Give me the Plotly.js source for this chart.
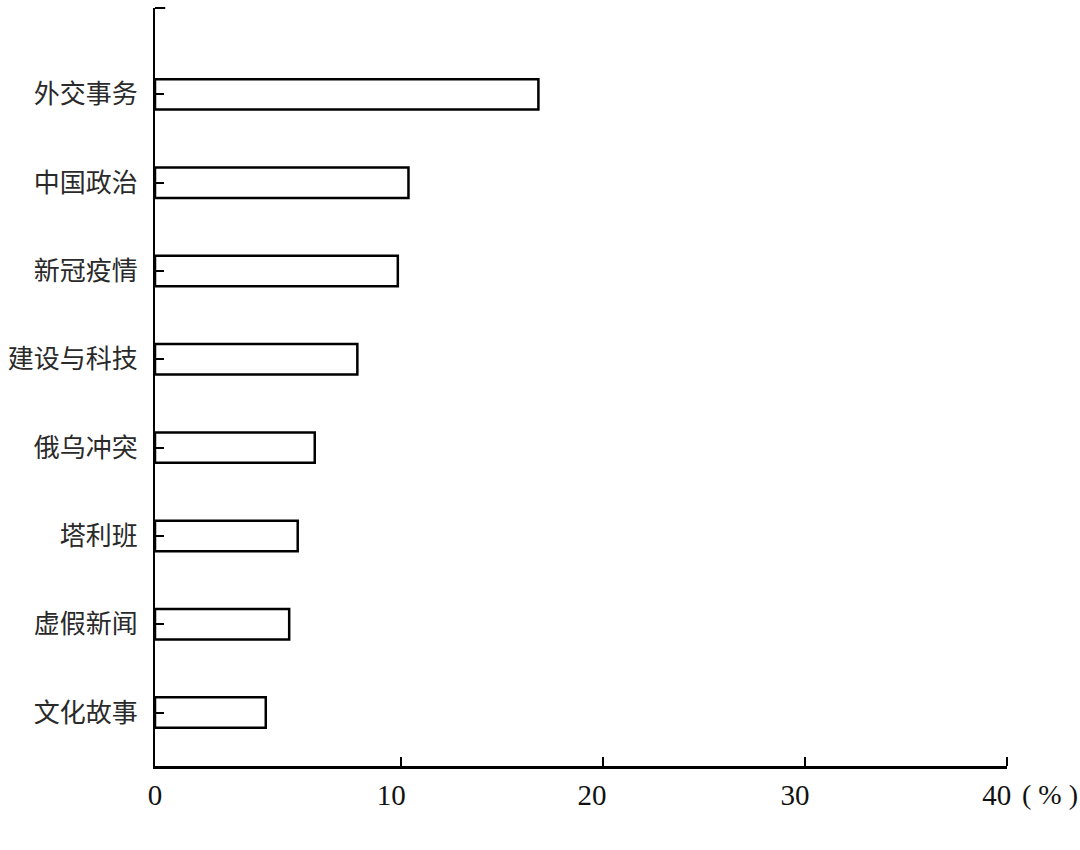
<!DOCTYPE html>
<html>
<head>
<meta charset="utf-8">
<script src="https://cdn.plot.ly/plotly-3.0.1.min.js"></script>
<style>html,body{margin:0;padding:0;background:#fff;}#chart{width:1080px;height:850px;}</style>
</head>
<body>
<div id="chart"></div>
<script>
// Data (top to bottom as in the chart)
const categories = ['外交事务', '中国政治', '新冠疫情', '建设与科技', '俄乌冲突', '塔利班', '虚假新闻', '文化故事'];
const shares = [18.0, 11.9, 11.4, 9.5, 7.5, 6.7, 6.3, 5.2];
const xTickLabels = ['0', '10', '20', '30', '40'];
const unitLabel = '( % )';

// Layout-only positions (the reference axis places its labels/ticks this way)
const labelPositions = [0, 11.09, 20.52, 30.05, 39.52];
const tickMarkPositions = [11.53, 21.02, 30.52, 40];

const trace = {
  type: 'bar',
  orientation: 'h',
  x: shares,
  y: categories,
  width: 0.345,
  marker: { color: '#ffffff', line: { color: '#000000', width: 2.5 } },
  hoverinfo: 'x+y'
};

const layout = {
  width: 1080,
  height: 850,
  margin: { l: 155, r: 73, t: 8, b: 84, pad: 0 },
  paper_bgcolor: '#ffffff',
  plot_bgcolor: '#ffffff',
  showlegend: false,
  xaxis: {
    range: [0, 40],
    showline: true,
    linecolor: '#000000',
    linewidth: 2.8,
    showgrid: false,
    zeroline: false,
    tickmode: 'array',
    tickvals: labelPositions,
    ticktext: xTickLabels,
    ticks: '',
    ticklabelstandoff: 1,
    tickfont: { family: 'Liberation Serif, Times New Roman, serif', size: 29, color: '#111111' },
    minor: {
      tickmode: 'array',
      tickvals: tickMarkPositions,
      ticks: 'inside',
      ticklen: 9,
      tickwidth: 2,
      tickcolor: '#000000',
      showgrid: false
    },
    fixedrange: true
  },
  yaxis: {
    type: 'category',
    categoryorder: 'array',
    categoryarray: categories,
    range: [7.605, -0.978],
    showline: true,
    linecolor: '#000000',
    linewidth: 2,
    showgrid: false,
    zeroline: false,
    ticks: 'inside',
    ticklen: 9,
    tickwidth: 2,
    tickcolor: '#000000',
    ticklabelstandoff: 10,
    tickfont: { family: 'Noto Sans CJK SC, sans-serif', size: 26, color: '#2a2a2a' },
    fixedrange: true
  },
  shapes: [
    {
      type: 'line', xref: 'paper', yref: 'paper',
      x0: 0, x1: 0.012, y0: 1, y1: 1,
      line: { color: '#000000', width: 2 }
    }
  ],
  annotations: [
    {
      xref: 'x', yref: 'paper', x: 40, y: 0,
      xanchor: 'left', yanchor: 'middle',
      xshift: 13, yshift: -28,
      text: unitLabel, showarrow: false,
      font: { family: 'Liberation Serif, Times New Roman, serif', size: 28, color: '#111111' }
    }
  ]
};

Plotly.newPlot('chart', [trace], layout, { displayModeBar: false, staticPlot: true });
</script>
</body>
</html>
